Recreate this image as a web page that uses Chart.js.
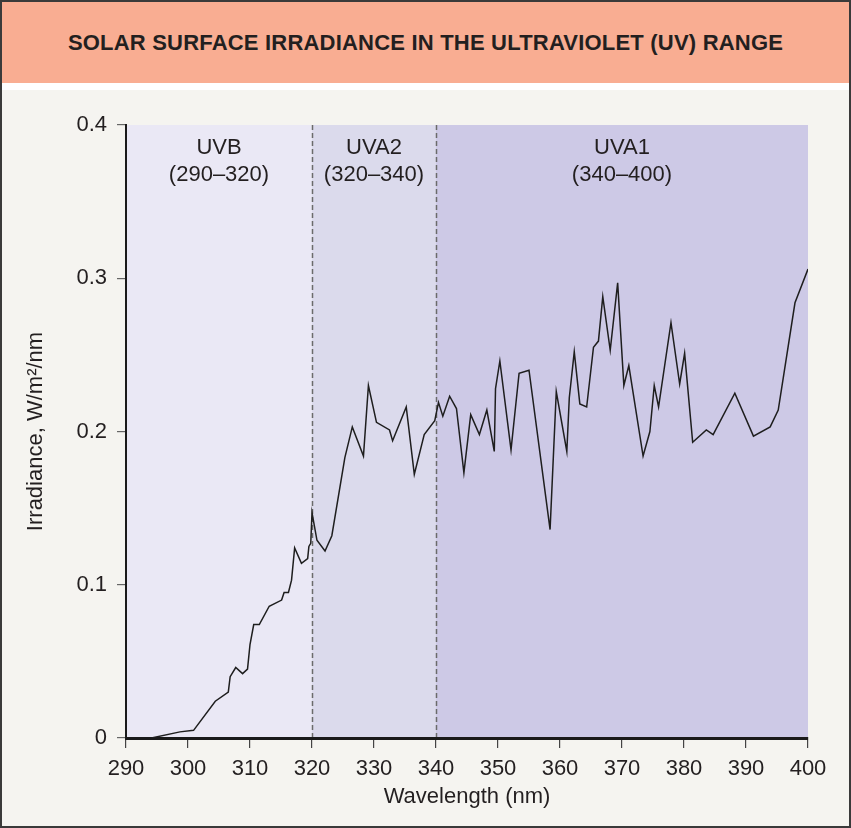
<!DOCTYPE html>
<html>
<head>
<meta charset="utf-8">
<script src="https://cdn.jsdelivr.net/npm/chart.js@4.4.1/dist/chart.umd.min.js"></script>
<style>
  html, body { margin: 0; padding: 0; }
  body { width: 851px; height: 828px; position: relative; overflow: hidden; background: #f5f4f0; font-family: "Liberation Sans", Arial, sans-serif; }
  .header { position: absolute; left: 0; top: 0; width: 851px; height: 83px; background: #f9ad92; }
  .header h1 { margin: 0; padding-top: 3px; font-size: 22px; font-weight: bold; color: #231f20; text-align: center; line-height: 80px; letter-spacing: 0.2px; }
  .strip { position: absolute; left: 0; top: 83px; width: 851px; height: 7px; background: #ffffff; }
  .frame { position: absolute; left: 0; top: 0; width: 851px; height: 828px; box-sizing: border-box; border: 2px solid #3a3a3a; pointer-events: none; }
  #chart { position: absolute; left: 0; top: 0; }
</style>
</head>
<body>
<div class="header"><h1>SOLAR SURFACE IRRADIANCE IN THE ULTRAVIOLET (UV) RANGE</h1></div>
<div class="strip"></div>
<canvas id="chart" width="851" height="828"></canvas>
<div class="frame"></div>
<script>
// wavelength (nm) and irradiance (W/m2/nm)
const wavelengths = [
  294.1, 298.7, 300.9, 304.4, 306.5, 306.8, 307.7, 308.8, 309.6, 310.0,
  310.6, 311.5, 313.1, 315.1, 315.5, 316.2, 316.7, 317.2, 318.3, 319.3,
  319.5, 319.8, 320.0, 320.8, 322.1, 323.2, 325.3, 326.5, 328.3, 329.1,
  330.4, 332.5, 333.0, 335.2, 336.5, 338.1, 339.8, 340.4, 341.1, 342.2,
  343.3, 344.5, 345.6, 347.0, 348.2, 349.4, 349.6, 350.3, 352.1, 353.4,
  355.0, 358.4, 359.4, 361.1, 361.5, 362.3, 363.2, 364.3, 365.4, 366.2,
  366.9, 368.1, 369.3, 370.3, 371.1, 373.4, 374.5, 375.2, 375.9, 377.9,
  379.3, 380.1, 381.4, 383.6, 384.7, 388.2, 391.2, 393.9, 395.2, 397.9,
  400.0
];
const irradiance = [
  0.000, 0.004, 0.005, 0.024, 0.030, 0.040, 0.046, 0.042, 0.045, 0.061,
  0.074, 0.074, 0.086, 0.090, 0.095, 0.095, 0.103, 0.124, 0.114, 0.117,
  0.125, 0.127, 0.147, 0.129, 0.122, 0.132, 0.183, 0.203, 0.184, 0.230,
  0.206, 0.201, 0.194, 0.216, 0.172, 0.198, 0.207, 0.219, 0.210, 0.223,
  0.215, 0.173, 0.211, 0.198, 0.214, 0.187, 0.228, 0.246, 0.188, 0.238,
  0.240, 0.136, 0.226, 0.187, 0.222, 0.252, 0.218, 0.216, 0.255, 0.259,
  0.288, 0.253, 0.297, 0.230, 0.243, 0.184, 0.200, 0.230, 0.216, 0.271,
  0.231, 0.251, 0.193, 0.201, 0.198, 0.225, 0.197, 0.203, 0.214, 0.284,
  0.306
];

const bandNames = ['UVB', 'UVA2', 'UVA1'];
const bandStart = [290, 320, 340];
const bandEnd = [320, 340, 400];
const bandColors = ['#eae8f5', '#dbdaec', '#cdc9e6'];

const xTicks = [290, 300, 310, 320, 330, 340, 350, 360, 370, 380, 390, 400];
const yTicks = [0, 0.1, 0.2, 0.3, 0.4];
const yTickLabels = ['0', '0.1', '0.2', '0.3', '0.4'];

const FONT = '"Liberation Sans", Arial, sans-serif';

const bands = {
  id: 'bands',
  beforeDraw(chart) {
    const { ctx, chartArea, scales } = chart;
    const x = scales.x;
    ctx.save();
    for (let i = 0; i < bandNames.length; i++) {
      const x0 = x.getPixelForValue(bandStart[i]);
      const x1 = x.getPixelForValue(bandEnd[i]);
      ctx.fillStyle = bandColors[i];
      ctx.fillRect(x0, chartArea.top, x1 - x0, chartArea.bottom - chartArea.top);
    }
    // dashed band dividers
    ctx.strokeStyle = '#6b6b6b';
    ctx.lineWidth = 1.5;
    ctx.setLineDash([5, 3]);
    for (let i = 1; i < bandNames.length; i++) {
      const px = Math.round(x.getPixelForValue(bandStart[i])) + 0.5;
      ctx.beginPath();
      ctx.moveTo(px, chartArea.top);
      ctx.lineTo(px, chartArea.bottom);
      ctx.stroke();
    }
    ctx.setLineDash([]);
    ctx.fillStyle = '#231f20';
    ctx.font = '22px ' + FONT;
    ctx.textAlign = 'center';
    ctx.textBaseline = 'middle';
    for (let i = 0; i < bandNames.length; i++) {
      const cx = (x.getPixelForValue(bandStart[i]) + x.getPixelForValue(bandEnd[i])) / 2;
      ctx.fillText(bandNames[i], cx, chartArea.top + 23);
      ctx.fillText('(' + bandStart[i] + '\u2013' + bandEnd[i] + ')', cx, chartArea.top + 50);
    }
    ctx.restore();
  }
};

new Chart(document.getElementById('chart'), {
  type: 'line',
  data: {
    datasets: [{
      data: wavelengths.map((w, i) => ({ x: w, y: irradiance[i] })),
      borderColor: '#1e1e1e',
      borderWidth: 1.5,
      pointRadius: 0,
      tension: 0,
      fill: false
    }]
  },
  options: {
    responsive: false,
    animation: false,
    devicePixelRatio: 1,
    layout: { padding: { top: 125, right: 43, left: 0, bottom: 0 } },
    plugins: { legend: { display: false }, tooltip: { enabled: false } },
    scales: {
      x: {
        type: 'linear',
        min: 290,
        max: 400,
        afterBuildTicks: s => { s.ticks = xTicks.map(v => ({ value: v })); },
        afterFit: s => { s.height = 90; },
        grid: { drawOnChartArea: false, drawTicks: true, tickLength: 10, color: '#444', lineWidth: 1.2 },
        border: { display: true, color: '#1a1a1a', width: 3 },
        ticks: { color: '#231f20', font: { family: FONT, size: 22 }, padding: 8, maxRotation: 0 },
        title: { display: true, text: 'Wavelength (nm)', color: '#231f20', font: { family: FONT, size: 22 }, padding: { top: 0, bottom: 18 } }
      },
      y: {
        min: 0,
        max: 0.4,
        afterBuildTicks: s => { s.ticks = yTicks.map(v => ({ value: v })); },
        afterFit: s => { s.width = 126; },
        grid: { drawOnChartArea: false, drawTicks: true, tickLength: 9, color: '#666', lineWidth: 1.2 },
        border: { display: true, color: '#1a1a1a', width: 2 },
        ticks: {
          color: '#231f20',
          font: { family: FONT, size: 22 },
          padding: 10,
          callback: (v) => yTickLabels[yTicks.indexOf(v)] ?? ''
        },
        title: { display: true, text: 'Irradiance, W/m\u00b2/nm', color: '#231f20', font: { family: FONT, size: 22 }, padding: { top: 23, bottom: 0 } }
      }
    }
  },
  plugins: [bands]
});
</script>
</body>
</html>
